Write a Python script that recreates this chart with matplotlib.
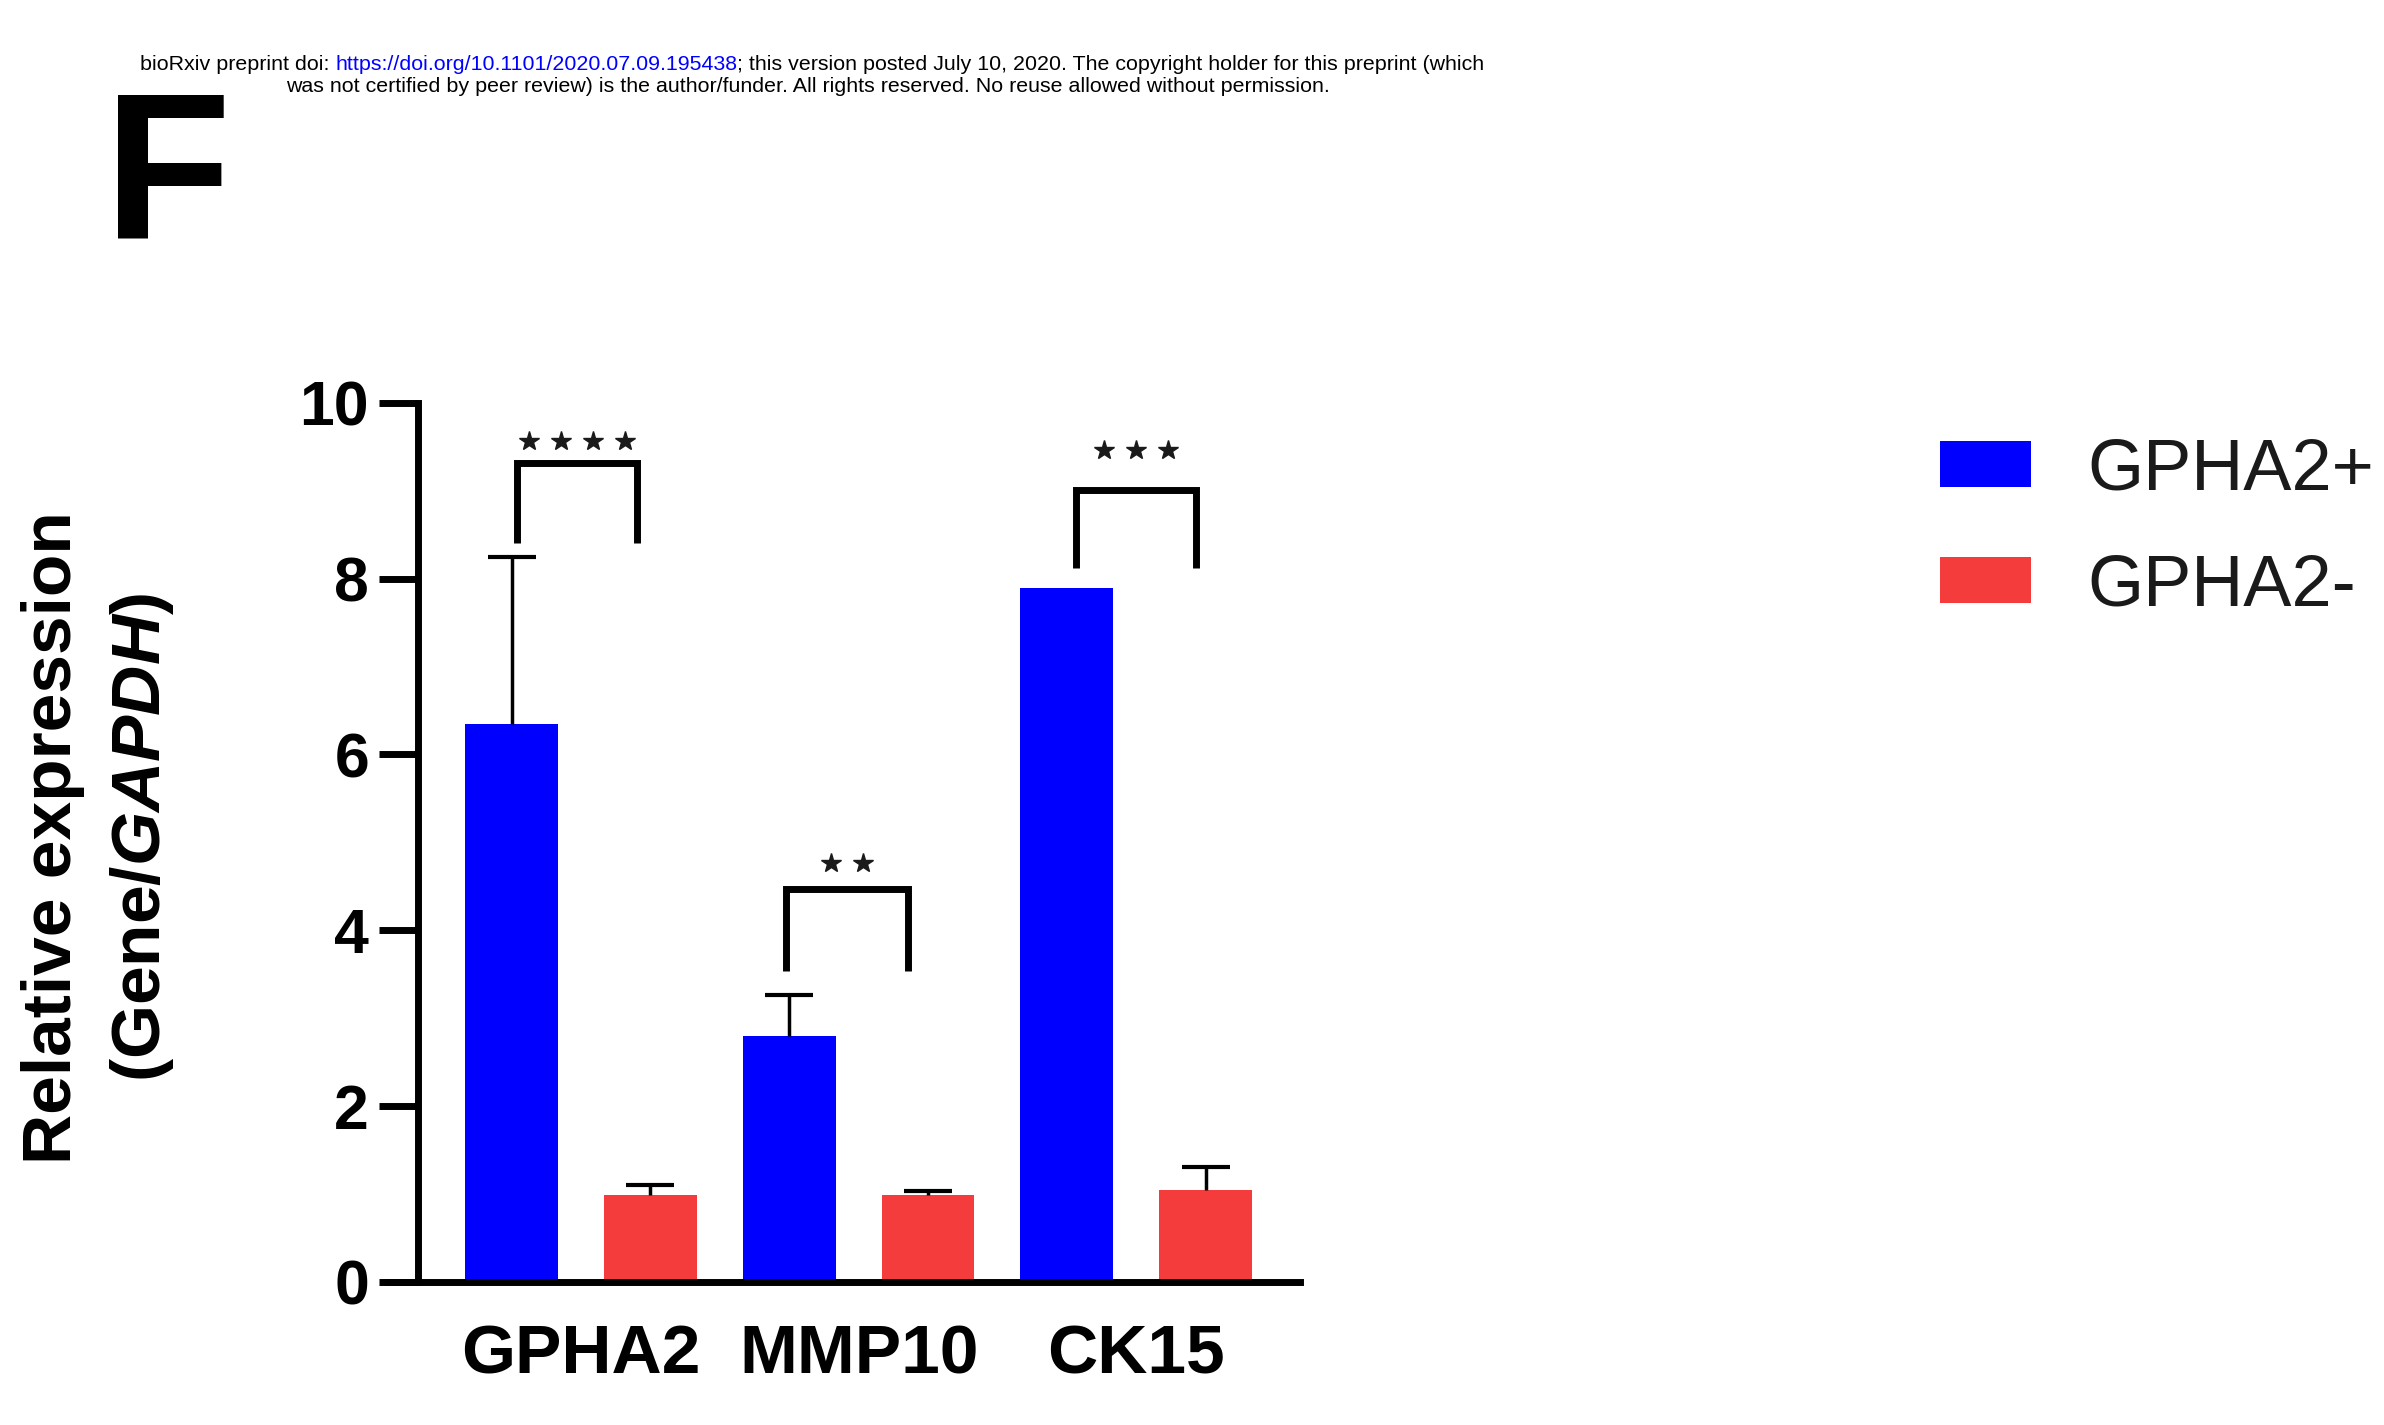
import numpy as np
import matplotlib
matplotlib.use('Agg')
import matplotlib.pyplot as plt

plt.rcParams['font.family'] = ['Liberation Sans', 'DejaVu Sans']
plt.rcParams['mathtext.fontset'] = 'custom'
plt.rcParams['mathtext.bfit'] = 'Liberation Sans:italic:bold'
plt.rcParams['mathtext.rm'] = 'Liberation Sans:bold'

# data
genes = ['GPHA2', 'MMP10', 'CK15']
groups = ['GPHA2+', 'GPHA2-']
plus_mean = [6.35, 2.80, 7.89]
plus_err = [1.90, 0.46, np.nan]
minus_mean = [0.99, 0.99, 1.04]
minus_err = [0.11, 0.04, 0.26]
sig_labels = ['****', '**', '***']
bracket_top = [9.31, 4.47, 9.01]
bracket_leg = [8.41, 3.53, 8.12]
star_y = [9.57, 4.76, 9.46]

colors = ['#0000ff', '#f43c3c']

fig = plt.figure(figsize=(23.84, 14.25), dpi=100)
ax = fig.add_axes([0.1626, 0.1006, 0.3827, 0.6167])

x = np.arange(len(genes))
w = 0.334
off = 0.25
b1 = ax.bar(x - off, plus_mean, w, color=colors[0], label=groups[0], zorder=2)
b2 = ax.bar(x + off, minus_mean, w, color=colors[1], label=groups[1], zorder=2)

# upper-only error bars
for xs, m, e in [(x - off, plus_mean, plus_err), (x + off, minus_mean, minus_err)]:
    m = np.array(m); e = np.array(e)
    ok = ~np.isnan(e)
    eb = ax.errorbar(xs[ok], m[ok], yerr=[np.zeros(ok.sum()), e[ok]], fmt='none',
                     ecolor='black', elinewidth=2.5, capsize=17, capthick=3, zorder=3)
    eb[1][0].set_visible(False)

# significance brackets
bracket_x = [(-0.232, 0.2), (-0.262, 0.176), (-0.216, 0.217)]
for i in range(len(genes)):
    xl, xr = x[i] + bracket_x[i][0], x[i] + bracket_x[i][1]
    ax.plot([xl, xl, xr, xr], [bracket_leg[i], bracket_top[i], bracket_top[i], bracket_leg[i]],
            color='black', lw=5, solid_joinstyle='miter', solid_capstyle='butt', clip_on=False, zorder=4)
    n = len(sig_labels[i])
    cx = (xl + xr) / 2
    sx = cx + (np.arange(n) - (n - 1) / 2) * 0.115
    ax.plot(sx, [star_y[i]] * n, linestyle='none', marker='*', markersize=15,
            color='#1a1a1a', clip_on=False, zorder=4)

ax.set_xlim(-0.697, 2.59)
ax.set_ylim(0, 10)
ax.spines['top'].set_visible(False)
ax.spines['right'].set_visible(False)
ax.spines['left'].set_position(('data', -0.589))
ax.spines['left'].set_bounds(0, 10)
for s in ['left', 'bottom']:
    ax.spines[s].set_linewidth(5)
ax.set_yticks(np.arange(0, 11, 2))
ax.tick_params(axis='y', length=28, width=5, pad=7, labelsize=45)
ax.set_xticks(x)
ax.set_xticklabels(genes)
ax.tick_params(axis='x', length=0, pad=30, labelsize=50)
for t in ax.get_xticklabels() + ax.get_yticklabels():
    t.set_fontweight('bold')

fig.text(0.0413, 0.412, 'Relative expression\n(Gene/$\\mathbfit{GAPDH}$)',
         rotation=90, ha='center', va='center', fontsize=50, fontweight='bold',
         linespacing=1.45, multialignment='center')

leg = ax.legend(handles=[b1, b2], loc='upper left', bbox_to_anchor=(0.8138, 0.693),
                bbox_transform=fig.transFigure, frameon=False, fontsize=52,
                handlelength=1.26, handleheight=0.59, handletextpad=0.78,
                labelspacing=0.68, borderpad=0, borderaxespad=0)
for t in leg.get_texts():
    t.set_color('#1a1a1a')

fig.text(0.0436, 1 - 88 / 1425, 'F', fontsize=150, fontweight='bold', va='top', ha='left')

# preprint header
r = fig.canvas.get_renderer()
parts = [('bioRxiv preprint doi: ', 'black'),
         ('https://doi.org/10.1101/2020.07.09.195438', 'blue'),
         ('; this version posted July 10, 2020. The copyright holder for this preprint (which', 'black')]
xpos = 140
for s, c in parts:
    t = fig.text(xpos / 2384, 1 - 65 / 1425, s, color=c, fontsize=15.4, va='center', ha='left')
    xpos = t.get_window_extent(r).x1
fig.text(808 / 2384, 1 - 87 / 1425,
         'was not certified by peer review) is the author/funder. All rights reserved. No reuse allowed without permission.',
         fontsize=15.4, va='center', ha='center')

fig.savefig('out.png', dpi=100)
